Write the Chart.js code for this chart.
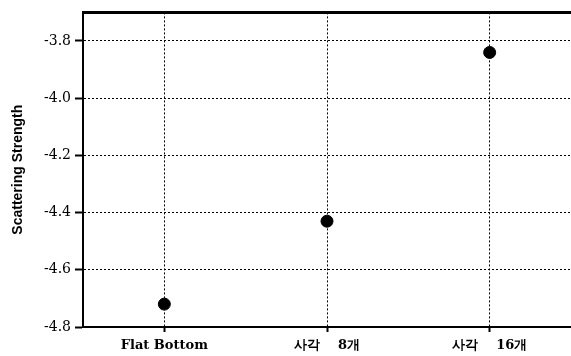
<!DOCTYPE html>
<html>
<head>
<meta charset="utf-8">
<script src="https://cdn.jsdelivr.net/npm/chart.js@4"></script>
<style>
  html, body { margin: 0; padding: 0; background: #fff; }
  #wrap { width: 571px; height: 356px; }
</style>
</head>
<body>
<div id="wrap"><canvas id="c"></canvas></div>
<script>
const CATEGORIES = ['Flat Bottom', '사각    8개', '사각    16개'];
const STRENGTH = [-4.72, -4.43, -3.84];
const Y_TICKS = [-4.8, -4.6, -4.4, -4.2, -4.0, -3.8];
const Y_MIN = -4.8;
const Y_MAX = -3.7;

const tickFont = { family: '"DejaVu Serif", "Liberation Serif", serif', size: 13, weight: 'bold' };

// no extra side padding, the plot runs to the right edge of the canvas
function noPad(s) {
    s.paddingLeft = 0;
    s.paddingRight = 0;
}

new Chart(document.getElementById('c'), {
    type: 'scatter',
    data: {
        labels: CATEGORIES,
        datasets: [{
            data: STRENGTH,
            backgroundColor: '#000',
            borderColor: '#000',
            pointRadius: 6,
            pointHoverRadius: 6,
            showLine: false
        }]
    },
    options: {
        responsive: true,
        maintainAspectRatio: false,
        animation: false,
        layout: { autoPadding: false, padding: { top: 10, left: 0, right: 0, bottom: 0 } },
        plugins: { legend: { display: false }, tooltip: { enabled: false } },
        scales: {
            x: {
                type: 'category',
                offset: true,
                grid: {
                    offset: false,
                    color: '#000',
                    lineWidth: 1,
                    tickColor: '#000',
                    tickLength: 5,
                    tickWidth: 2
                },
                border: { color: '#000', width: 2, dash: [2, 2] },
                ticks: { color: '#000', font: tickFont, padding: 6, maxRotation: 0 },
                afterFit: (s) => { s.height = 29; noPad(s); }
            },
            xTop: {
                type: 'linear',
                position: 'top',
                grid: { display: false },
                ticks: { display: false },
                border: { color: '#000', width: 3 },
                afterFit: (s) => { s.height = 0; noPad(s); }
            },
            y: {
                type: 'linear',
                min: Y_MIN,
                max: Y_MAX,
                afterBuildTicks: (s) => { s.ticks = Y_TICKS.map(v => ({ value: v })); },
                grid: {
                    color: '#000',
                    lineWidth: 1,
                    tickColor: '#000',
                    tickLength: 8,
                    tickWidth: 2
                },
                border: { color: '#000', width: 2, dash: [2, 2] },
                ticks: {
                    color: '#000',
                    font: { family: '"DejaVu Serif", "Liberation Serif", serif', size: 14 },
                    padding: 4,
                    callback: (v) => v.toFixed(1)
                },
                title: {
                    display: true,
                    text: 'Scattering Strength',
                    color: '#000',
                    font: { family: '"Liberation Sans Narrow", "Liberation Sans", Arial, sans-serif', size: 14, weight: 'bold' },
                    padding: { top: 10, bottom: 0 }
                },
                afterFit: (s) => { s.width = 83; }
            }
        }
    }
});
</script>
</body>
</html>
